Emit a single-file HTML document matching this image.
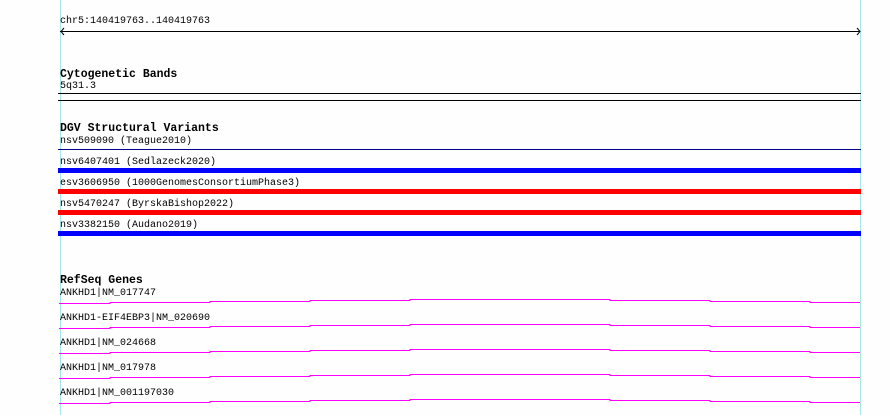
<!DOCTYPE html>
<html><head><meta charset="utf-8"><style>
body{margin:0;width:890px;height:415px;background:#fdfefd;position:relative;overflow:hidden;font-family:"Liberation Mono",monospace;}
.t{position:absolute;left:60px;font-size:10px;line-height:12px;color:#000;white-space:pre;}
.b{position:absolute;left:60px;font-size:11.5px;line-height:12px;font-weight:bold;color:#000;white-space:pre;}
.l{position:absolute;left:58px;width:803px;}
</style></head><body>
<div style="position:absolute;left:60px;top:0;width:1px;height:415px;background:#a8e6ec"></div>
<div style="position:absolute;left:860px;top:0;width:1px;height:415px;background:#a8e6ec"></div>
<div class="t" style="top:16px">chr5:140419763..140419763</div>
<svg style="position:absolute;left:0;top:0" width="890" height="415">
<line x1="60" y1="31.5" x2="860" y2="31.5" stroke="#000" stroke-width="1"/>
<polyline points="64,28 61,31.5 64,35" fill="none" stroke="#000"/>
<polyline points="857,28 860,31.5 857,35" fill="none" stroke="#000"/>
<g stroke="#f0f" stroke-width="1" fill="none">
<polyline points="59,303.5 110,303.5 110,302.5 210,302.5 210,301.5 310,301.5 310,300.5 410,300.5 410,299.5 510,299.5 510,299.5 610,299.5 610,300.5 710,300.5 710,301.5 810,301.5 810,302.5 860,302.5"/>
<polyline points="59,328.5 110,328.5 110,327.5 210,327.5 210,326.5 310,326.5 310,325.5 410,325.5 410,324.5 610,324.5 610,325.5 710,325.5 710,326.5 810,326.5 810,327.5 860,327.5"/>
<polyline points="59,353.5 110,353.5 110,352.5 210,352.5 210,351.5 310,351.5 310,350.5 410,350.5 410,349.5 610,349.5 610,350.5 710,350.5 710,351.5 810,351.5 810,352.5 860,352.5"/>
<polyline points="59,378.5 110,378.5 110,377.5 210,377.5 210,376.5 310,376.5 310,375.5 410,375.5 410,374.5 610,374.5 610,375.5 710,375.5 710,376.5 810,376.5 810,377.5 860,377.5"/>
<polyline points="59,403.5 110,403.5 110,402.5 210,402.5 210,401.5 310,401.5 310,400.5 410,400.5 410,399.5 610,399.5 610,400.5 710,400.5 710,401.5 810,401.5 810,402.5 860,402.5"/>
</g>
</svg>
<div class="b" style="top:69px">Cytogenetic Bands</div>
<div class="t" style="top:81px">5q31.3</div>
<div class="l" style="top:93px;height:1px;background:#000"></div>
<div class="l" style="top:100px;height:1px;background:#000"></div>
<div class="b" style="top:123px">DGV Structural Variants</div>
<div class="t" style="top:136px">nsv509090 (Teague2010)</div>
<div class="l" style="top:149px;height:1px;background:#00008b"></div>
<div class="t" style="top:157px">nsv6407401 (Sedlazeck2020)</div>
<div class="l" style="top:168px;height:5px;background:#00f"></div>
<div class="t" style="top:178px">esv3606950 (1000GenomesConsortiumPhase3)</div>
<div class="l" style="top:189px;height:5px;background:#f00"></div>
<div class="t" style="top:199px">nsv5470247 (ByrskaBishop2022)</div>
<div class="l" style="top:210px;height:5px;background:#f00"></div>
<div class="t" style="top:220px">nsv3382150 (Audano2019)</div>
<div class="l" style="top:231px;height:5px;background:#00f"></div>
<div class="b" style="top:275px">RefSeq Genes</div>
<div class="t" style="top:288px">ANKHD1|NM_017747</div>
<div class="t" style="top:313px">ANKHD1-EIF4EBP3|NM_020690</div>
<div class="t" style="top:338px">ANKHD1|NM_024668</div>
<div class="t" style="top:363px">ANKHD1|NM_017978</div>
<div class="t" style="top:388px">ANKHD1|NM_001197030</div>
</body></html>
